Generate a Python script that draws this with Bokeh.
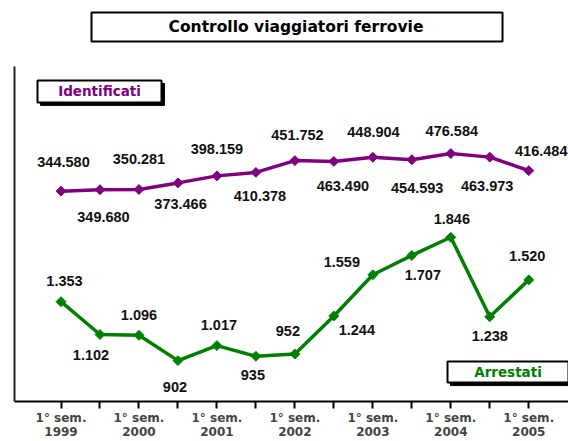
from bokeh.plotting import figure
from bokeh.models import Range1d, FixedTicker, ColumnDataSource
from bokeh.layouts import column
from bokeh.embed import file_html
from bokeh.resources import INLINE
from bokeh.core.properties import value
import math

# ---------------- data ----------------
periods = ["1° sem. 1999", "2° sem. 1999", "1° sem. 2000", "2° sem. 2000",
           "1° sem. 2001", "2° sem. 2001", "1° sem. 2002", "2° sem. 2002",
           "1° sem. 2003", "2° sem. 2003", "1° sem. 2004", "2° sem. 2004",
           "1° sem. 2005"]
identificati = [344580, 349680, 350281, 373466, 398159, 410378, 451752,
                448904, 463490, 454593, 476584, 463973, 416484]
arrestati = [1353, 1102, 1096, 902, 1017, 935, 952,
             1244, 1559, 1707, 1846, 1238, 1520]
tick_labels = ["1° sem.\n1999", "", "1° sem.\n2000", "", "1° sem.\n2001", "",
               "1° sem.\n2002", "", "1° sem.\n2003", "", "1° sem.\n2004", "",
               "1° sem.\n2005"]
title_text = "Controllo viaggiatori ferrovie"
series_names = ["Identificati", "Arrestati"]

# ---------------- styling / geometry ----------------
PURPLE = "#800080"
GREEN = "#008000"
W = 568
TH = 50                 # height of the title strip
H = 441 - TH            # height of the chart
FL, FR, FT, FB = 14, 568, 66, 402      # frame edges in page pixels
PX0, PXS = 60.5, 38.98                 # page x of first category, step
ID_REF, ID_PY, ID_K = 344580, 191.0, 2.856e-4
AR_REF, AR_PY, AR_K = 902, 361.0, 0.13104


def xd(px):
    return (px - PX0) / PXS


def yd(py):
    return ID_REF + (ID_PY - py) / ID_K


def fmt(v):
    return f"{v:,}".replace(",", ".")


# label offsets (screen px, +y downward)
ID_OFF = [(2.5, -29), (3.5, 27), (0, -31), (2.6, 21), (0, -27), (4, 24),
          (2.6, -26), (39.6, -29), (-30, 29), (5.4, 28), (1, -23),
          (-2.6, 29), (12.5, -20)]
AR_OFF = [(3.5, -21), (-9, 21), (0, -20), (-3, 26), (2, -21), (-3, 19),
          (-7, -23), (23, 14), (-31, -13), (11, 20), (1, -18), (0, 19),
          (-1.5, -24)]

# ---------------- title strip ----------------
t = figure(width=W, height=TH, x_range=Range1d(FL, FR), y_range=Range1d(TH, 0),
           output_backend="svg", toolbar_location=None,
           x_axis_location=None, y_axis_location=None,
           min_border_left=FL, min_border_right=W - FR,
           min_border_top=0, min_border_bottom=0)
t.outline_line_color = None
t.grid.visible = False
t.quad(left=[91], right=[502], top=[12], bottom=[41],
       fill_color="white", line_color="black", line_width=2)
t.text(x=[295.5], y=[26.5], text=[title_text],
       text_font=value("DejaVu Sans"), text_font_style="bold",
       text_font_size="15.5px", text_color="black",
       text_align="center", text_baseline="middle")

# ---------------- chart ----------------
xs = list(range(len(periods)))

p = figure(width=W, height=H,
           x_range=Range1d(xd(FL), xd(FR)),
           y_range=Range1d(yd(FB), yd(FT)),
           output_backend="svg", toolbar_location=None,
           min_border_left=FL, min_border_right=W - FR,
           min_border_top=FT - TH, min_border_bottom=441 - FB)
p.extra_y_ranges = {"arr": Range1d(AR_REF - (FB - AR_PY) / AR_K,
                                   AR_REF + (AR_PY - FT) / AR_K)}
p.outline_line_color = None
p.xgrid.visible = False
p.ygrid.visible = False

xa = p.xaxis[0]
xa.ticker = FixedTicker(ticks=xs)
xa.major_label_overrides = {i: s for i, s in enumerate(tick_labels)}
xa.major_tick_out = 7
xa.major_tick_in = 0
xa.minor_tick_out = 0
xa.minor_tick_in = 0
xa.axis_line_width = 2
xa.axis_line_color = "black"
xa.major_tick_line_width = 2
xa.major_label_text_font = "DejaVu Sans"
xa.major_label_text_font_style = "bold"
xa.major_label_text_font_size = "12px"
xa.major_label_text_line_height = 1.0
xa.major_label_standoff = 2

ya = p.yaxis[0]
ya.ticker = FixedTicker(ticks=[])
ya.major_tick_out = 0
ya.major_tick_in = 0
ya.minor_tick_out = 0
ya.major_label_text_font_size = "0px"
ya.axis_line_width = 2
ya.axis_line_color = "#222222"

src_id = ColumnDataSource(dict(
    x=xs, y=identificati, label=[fmt(v) for v in identificati],
    dx=[o[0] for o in ID_OFF], dy=[o[1] for o in ID_OFF]))
src_ar = ColumnDataSource(dict(
    x=xs, y=arrestati, label=[fmt(v) for v in arrestati],
    dx=[o[0] for o in AR_OFF], dy=[o[1] for o in AR_OFF]))

p.line("x", "y", source=src_id, line_color=PURPLE, line_width=3.5)
p.scatter("x", "y", source=src_id, marker="square", angle=math.pi / 4,
          size=7, fill_color=PURPLE, line_color=PURPLE)
p.line("x", "y", source=src_ar, line_color=GREEN, line_width=3.5,
       y_range_name="arr")
p.scatter("x", "y", source=src_ar, marker="square", angle=math.pi / 4,
          size=7, fill_color=GREEN, line_color=GREEN, y_range_name="arr")

lab_kw = dict(text="label", x_offset="dx", y_offset="dy",
              text_font=value("Liberation Sans"), text_font_style="bold",
              text_font_size="14.5px", text_color="#111111",
              text_align="center", text_baseline="middle")
p.text("x", "y", source=src_id, **lab_kw)
p.text("x", "y", source=src_ar, y_range_name="arr", **lab_kw)


def box(l, r, tp, b, text, color):
    p.quad(left=xd(l + 3), right=xd(r + 3), top=yd(tp + 3), bottom=yd(b + 3),
           fill_color="black", line_color="black")
    p.quad(left=xd(l), right=xd(r), top=yd(tp), bottom=yd(b),
           fill_color="white", line_color="black", line_width=2)
    p.text(x=[xd((l + r) / 2)], y=[yd((tp + b) / 2)], text=[text],
           text_font=value("DejaVu Sans"), text_font_style="bold",
           text_font_size="13.5px", text_color=color,
           text_align="center", text_baseline="middle")


box(37, 161, 80, 102, series_names[0], PURPLE)
box(447, 568, 362, 383, series_names[1], GREEN)

layout = column(t, p, spacing=0)
open("out.html", "w").write(file_html(layout, INLINE))
